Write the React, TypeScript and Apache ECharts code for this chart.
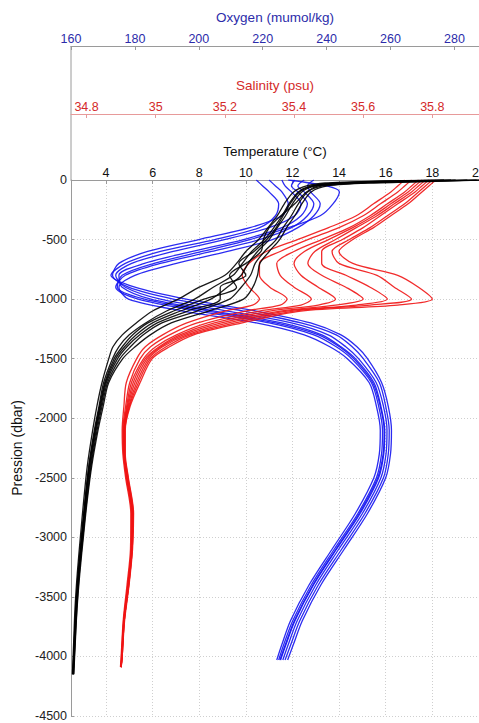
import React, { useEffect, useRef } from "react";
import * as echarts from "echarts";

// ---- Tick labels ----
const pressureMin = -4500;
const pressureMax = 0;
const pressureStep = 500;
const tempTicks = [4, 6, 8, 10, 12, 14, 16, 18, 20];
const salTicks = [34.8, 35, 35.2, 35.4, 35.6, 35.8];
const oxyTicks = [160, 180, 200, 220, 240, 260, 280];

// ---- Temperature profiles (°C) at pressure levels (dbar) ----
const tempP = [0, -10, -25, -50, -100, -200, -300, -400, -500, -600, -700, -800, -900, -1000, -1100, -1200, -1300, -1400, -1500, -1700, -1900, -2100, -2400, -2700, -3000, -3300, -3600, -3900, -4150];
const temp1 = [18.5, 15.5, 13.4, 12.6, 12.05, 11.65, 11.35, 10.95, 10.55, 10.0, 9.6, 9.1, 8.0, 7.1, 6.0, 5.3, 4.7, 4.3, 4.12, 3.83, 3.61, 3.43, 3.2, 3.04, 2.9, 2.77, 2.67, 2.61, 2.56];
const temp2 = [19.0, 16.3, 13.9, 12.8, 12.25, 11.85, 11.55, 11.2, 10.8, 10.25, 9.85, 9.45, 8.6, 7.8, 6.6, 5.7, 5.0, 4.55, 4.28, 3.9, 3.7, 3.5, 3.26, 3.09, 2.94, 2.8, 2.7, 2.63, 2.58];
const temp3 = [19.5, 17.2, 14.4, 13.0, 12.4, 12.0, 11.7, 11.35, 11.0, 10.5, 10.1, 9.8, 9.2, 8.5, 7.2, 6.0, 5.3, 4.8, 4.42, 3.98, 3.76, 3.55, 3.3, 3.12, 2.97, 2.83, 2.72, 2.65, 2.59];
const temp4 = [19.9, 18.0, 15.0, 13.3, 12.65, 12.25, 11.95, 11.6, 11.3, 10.8, 10.4, 10.2, 9.8, 9.3, 7.9, 6.4, 5.6, 5.05, 4.6, 4.07, 3.83, 3.62, 3.36, 3.17, 3.01, 2.86, 2.75, 2.67, 2.61];
const temp5 = [20.2, 18.6, 15.5, 13.5, 12.8, 12.4, 12.1, 11.75, 11.45, 11.0, 10.6, 10.5, 10.3, 9.9, 8.4, 6.8, 5.9, 5.25, 4.72, 4.12, 3.88, 3.66, 3.39, 3.19, 3.03, 2.88, 2.76, 2.68, 2.62];
const temp6 = [18.8, 16.0, 14.2, 13.1, 12.6, 12.1, 11.5, 11.0, 10.75, 10.65, 10.0, 9.3, 9.6, 8.2, 6.9, 5.8, 5.15, 4.7, 4.35, 3.95, 3.73, 3.53, 3.28, 3.11, 2.96, 2.82, 2.71, 2.64, 2.58];
const temp7 = [20.0, 17.6, 14.0, 12.9, 12.3, 11.9, 11.6, 11.3, 10.9, 10.35, 9.7, 10.0, 8.9, 8.9, 7.5, 6.2, 5.45, 4.9, 4.5, 4.02, 3.79, 3.58, 3.33, 3.14, 2.99, 2.84, 2.73, 2.66, 2.6];

// ---- Salinity profiles (psu) ----
const salP = [0, -50, -100, -200, -300, -400, -500, -600, -700, -800, -900, -1000, -1050, -1100, -1200, -1300, -1400, -1500, -1700, -1900, -2100, -2300, -2500, -2800, -3100, -3400, -3700, -4000, -4090];
const sal1 = [35.72, 35.70, 35.68, 35.63, 35.58, 35.50, 35.41, 35.32, 35.27, 35.25, 35.27, 35.30, 35.28, 35.20, 35.09, 35.02, 34.97, 34.945, 34.915, 34.908, 34.903, 34.905, 34.913, 34.928, 34.927, 34.917, 34.906, 34.900, 34.898];
const sal2 = [35.74, 35.72, 35.70, 35.65, 35.60, 35.53, 35.44, 35.36, 35.30, 35.30, 35.33, 35.38, 35.36, 35.26, 35.12, 35.04, 34.985, 34.955, 34.925, 34.913, 34.905, 34.907, 34.915, 34.930, 34.929, 34.919, 34.907, 34.901, 34.899];
const sal3 = [35.76, 35.74, 35.72, 35.67, 35.62, 35.56, 35.48, 35.40, 35.35, 35.36, 35.40, 35.45, 35.42, 35.30, 35.15, 35.06, 35.00, 34.965, 34.930, 34.916, 34.907, 34.908, 34.916, 34.931, 34.930, 34.920, 34.908, 34.902, 34.900];
const sal4 = [35.77, 35.75, 35.73, 35.68, 35.63, 35.57, 35.50, 35.43, 35.40, 35.42, 35.47, 35.52, 35.47, 35.33, 35.17, 35.07, 35.01, 34.970, 34.935, 34.918, 34.908, 34.909, 34.917, 34.932, 34.930, 34.920, 34.908, 34.902, 34.900];
const sal5 = [35.78, 35.76, 35.74, 35.69, 35.64, 35.58, 35.52, 35.46, 35.44, 35.48, 35.55, 35.60, 35.52, 35.36, 35.19, 35.08, 35.015, 34.975, 34.940, 34.920, 34.909, 34.910, 34.918, 34.933, 34.931, 34.921, 34.909, 34.902, 34.900];
const sal6 = [35.79, 35.77, 35.75, 35.70, 35.65, 35.60, 35.54, 35.48, 35.48, 35.55, 35.62, 35.67, 35.58, 35.38, 35.21, 35.09, 35.02, 34.980, 34.945, 34.922, 34.910, 34.910, 34.919, 34.934, 34.932, 34.922, 34.909, 34.903, 34.900];
const sal7 = [35.80, 35.78, 35.76, 35.72, 35.67, 35.62, 35.56, 35.51, 35.53, 35.64, 35.69, 35.74, 35.62, 35.40, 35.23, 35.10, 35.03, 34.985, 34.950, 34.924, 34.911, 34.911, 34.920, 34.935, 34.932, 34.922, 34.909, 34.903, 34.900];
const sal8 = [35.81, 35.79, 35.77, 35.73, 35.68, 35.63, 35.57, 35.53, 35.57, 35.70, 35.76, 35.80, 35.70, 35.42, 35.25, 35.11, 35.04, 34.990, 34.955, 34.926, 34.912, 34.912, 34.921, 34.936, 34.933, 34.923, 34.910, 34.903, 34.900];

// ---- Oxygen profiles (µmol/kg) ----
const oxyP = [0, -50, -100, -200, -300, -400, -500, -600, -700, -800, -900, -1000, -1100, -1200, -1300, -1400, -1500, -1700, -1900, -2100, -2300, -2500, -2800, -3100, -3400, -3700, -3900, -4030];
const oxy1 = [222, 224, 226, 228, 226, 216, 200, 184, 175, 173, 178, 192, 214, 232, 243, 248, 251.5, 256.5, 258.5, 259.6, 259.3, 257.8, 252, 244.7, 237.4, 231.6, 228.8, 227];
const oxy2 = [226, 227, 229, 232, 230, 222, 208, 192, 179, 174, 177, 188, 209, 229, 240.5, 246, 250, 255.5, 257.8, 258.9, 258.6, 257, 251.2, 243.8, 236.6, 230.8, 228, 226.3];
const oxy3 = [230, 229, 231, 234, 232, 226, 214, 198, 183, 175, 176, 185, 205, 226, 238.5, 244.5, 249, 254.8, 257, 258.2, 257.9, 256.3, 250.5, 243.1, 235.9, 230.1, 227.3, 225.6];
const oxy4 = [233, 231, 233, 236, 234, 229, 219, 204, 188, 177, 174, 181, 200, 222, 236, 243, 247.8, 254, 256.3, 257.5, 257.2, 255.6, 249.8, 242.4, 235.2, 229.4, 226.6, 225];
const oxy5 = [236, 234, 235, 238, 236, 231, 223, 209, 193, 180, 175, 178, 195, 218, 233, 241, 246.5, 253.3, 255.6, 256.8, 256.5, 254.8, 249, 241.7, 234.5, 228.7, 226, 224.4];
const oxy6 = [228, 240, 244, 242, 238, 228, 216, 201, 186, 176, 174.5, 183, 203, 224, 237.5, 244, 248.5, 254.4, 256.8, 258, 257.7, 256, 250.2, 242.9, 235.7, 229.9, 227.1, 225.4];
const oxy7 = [218, 220, 222, 225, 224, 219, 205, 188, 177, 172.5, 180, 196, 218, 235, 244.5, 249.5, 252.8, 257.2, 259.3, 260.3, 260, 258.5, 252.8, 245.5, 238.2, 232.4, 229.6, 227.8];

const tempProfiles = [temp1, temp2, temp3, temp4, temp5, temp6, temp7];
const salProfiles = [sal1, sal2, sal3, sal4, sal5, sal6, sal7, sal8];
const oxyProfiles = [oxy1, oxy2, oxy3, oxy4, oxy5, oxy6, oxy7];

const FONT = "'Liberation Sans', Arial, Helvetica, sans-serif";

function makeSeries(profiles: number[][], levels: number[], axis: number, color: string, name: string, z: number) {
  return profiles.map((vals, i) => ({
    name: name + " " + (i + 1),
    type: "line",
    xAxisIndex: axis,
    yAxisIndex: 0,
    showSymbol: false,
    symbol: "none",
    smooth: 0.3,
    silent: true,
    z,
    data: vals.map((v, j) => [v, levels[j]]),
    lineStyle: { color, width: 1.3, opacity: 0.9 },
  }));
}

export default function App() {
  const ref = useRef<HTMLDivElement>(null);
  useEffect(() => {
    if (!ref.current) return;
    const chart = echarts.init(ref.current, undefined, { renderer: "svg" });
    const topAxis = (
      name: string,
      color: string,
      lineColor: string,
      min: number,
      max: number,
      ticks: number[],
      offset: number,
      split: boolean
    ) => ({
      type: "value",
      position: "top",
      offset,
      min,
      max,
      name,
      nameLocation: "middle",
      nameGap: 22,
      nameTextStyle: { color, fontSize: 13.5, fontFamily: FONT },
      axisLine: { show: true, onZero: false, lineStyle: { color: lineColor, width: 1 } },
      axisTick: { show: true, inside: true, length: 4, customValues: ticks, lineStyle: { color: lineColor } },
      axisLabel: {
        show: true,
        customValues: ticks,
        color,
        fontSize: 12.5,
        fontFamily: FONT,
        margin: 1,
        formatter: (v: number) => String(v),
      },
      splitLine: { show: split, lineStyle: { color: "#cfcfcf", type: [1, 2], width: 1 } },
    });
    chart.setOption({
      animation: false,
      backgroundColor: "#ffffff",
      grid: { left: 71, right: 0, top: 180, bottom: 7, containLabel: false, outerBoundsMode: "none" },
      xAxis: [
        topAxis("Temperature (°C)", "#111111", "#9a9a9a", 2.5, 20, tempTicks, 0, true),
        topAxis("Salinity (psu)", "#d42a2a", "#e79a9a", 34.755, 35.935, salTicks, 66, false),
        topAxis("Oxygen (mumol/kg)", "#2c2caa", "#9a9a9a", 160, 287.7, oxyTicks, 134, false),
      ],
      yAxis: [
        {
          type: "value",
          min: pressureMin,
          max: pressureMax,
          interval: pressureStep,
          name: "Pression (dbar)",
          nameLocation: "middle",
          nameGap: 39,
          nameTextStyle: { color: "#111111", fontSize: 14, fontFamily: FONT },
          axisLine: { show: true, onZero: false, lineStyle: { color: "#9a9a9a" } },
          axisTick: { show: true, inside: true, length: 3, lineStyle: { color: "#9a9a9a" } },
          axisLabel: { color: "#222222", fontSize: 12.5, fontFamily: FONT, margin: 4, formatter: (v: number) => String(v) },
          splitLine: { show: true, lineStyle: { color: "#cfcfcf", type: [1, 2], width: 1 } },
        },
      ],
      graphic: [
        { type: "line", shape: { x1: 71, y1: 46, x2: 71, y2: 180 }, style: { stroke: "#9a9a9a", lineWidth: 1 }, silent: true },
      ],
      series: [
        ...makeSeries(oxyProfiles, oxyP, 2, "#1414f0", "Oxygen", 2),
        ...makeSeries(salProfiles, salP, 1, "#f01414", "Salinity", 3),
        ...makeSeries(tempProfiles, tempP, 0, "#000000", "Temperature", 4),
      ],
    });
    return () => chart.dispose();
  }, []);
  return (
    <div
      ref={ref}
      style={{ position: "absolute", left: 0, top: 0, width: 479, height: 723, background: "#fff" }}
    />
  );
}
